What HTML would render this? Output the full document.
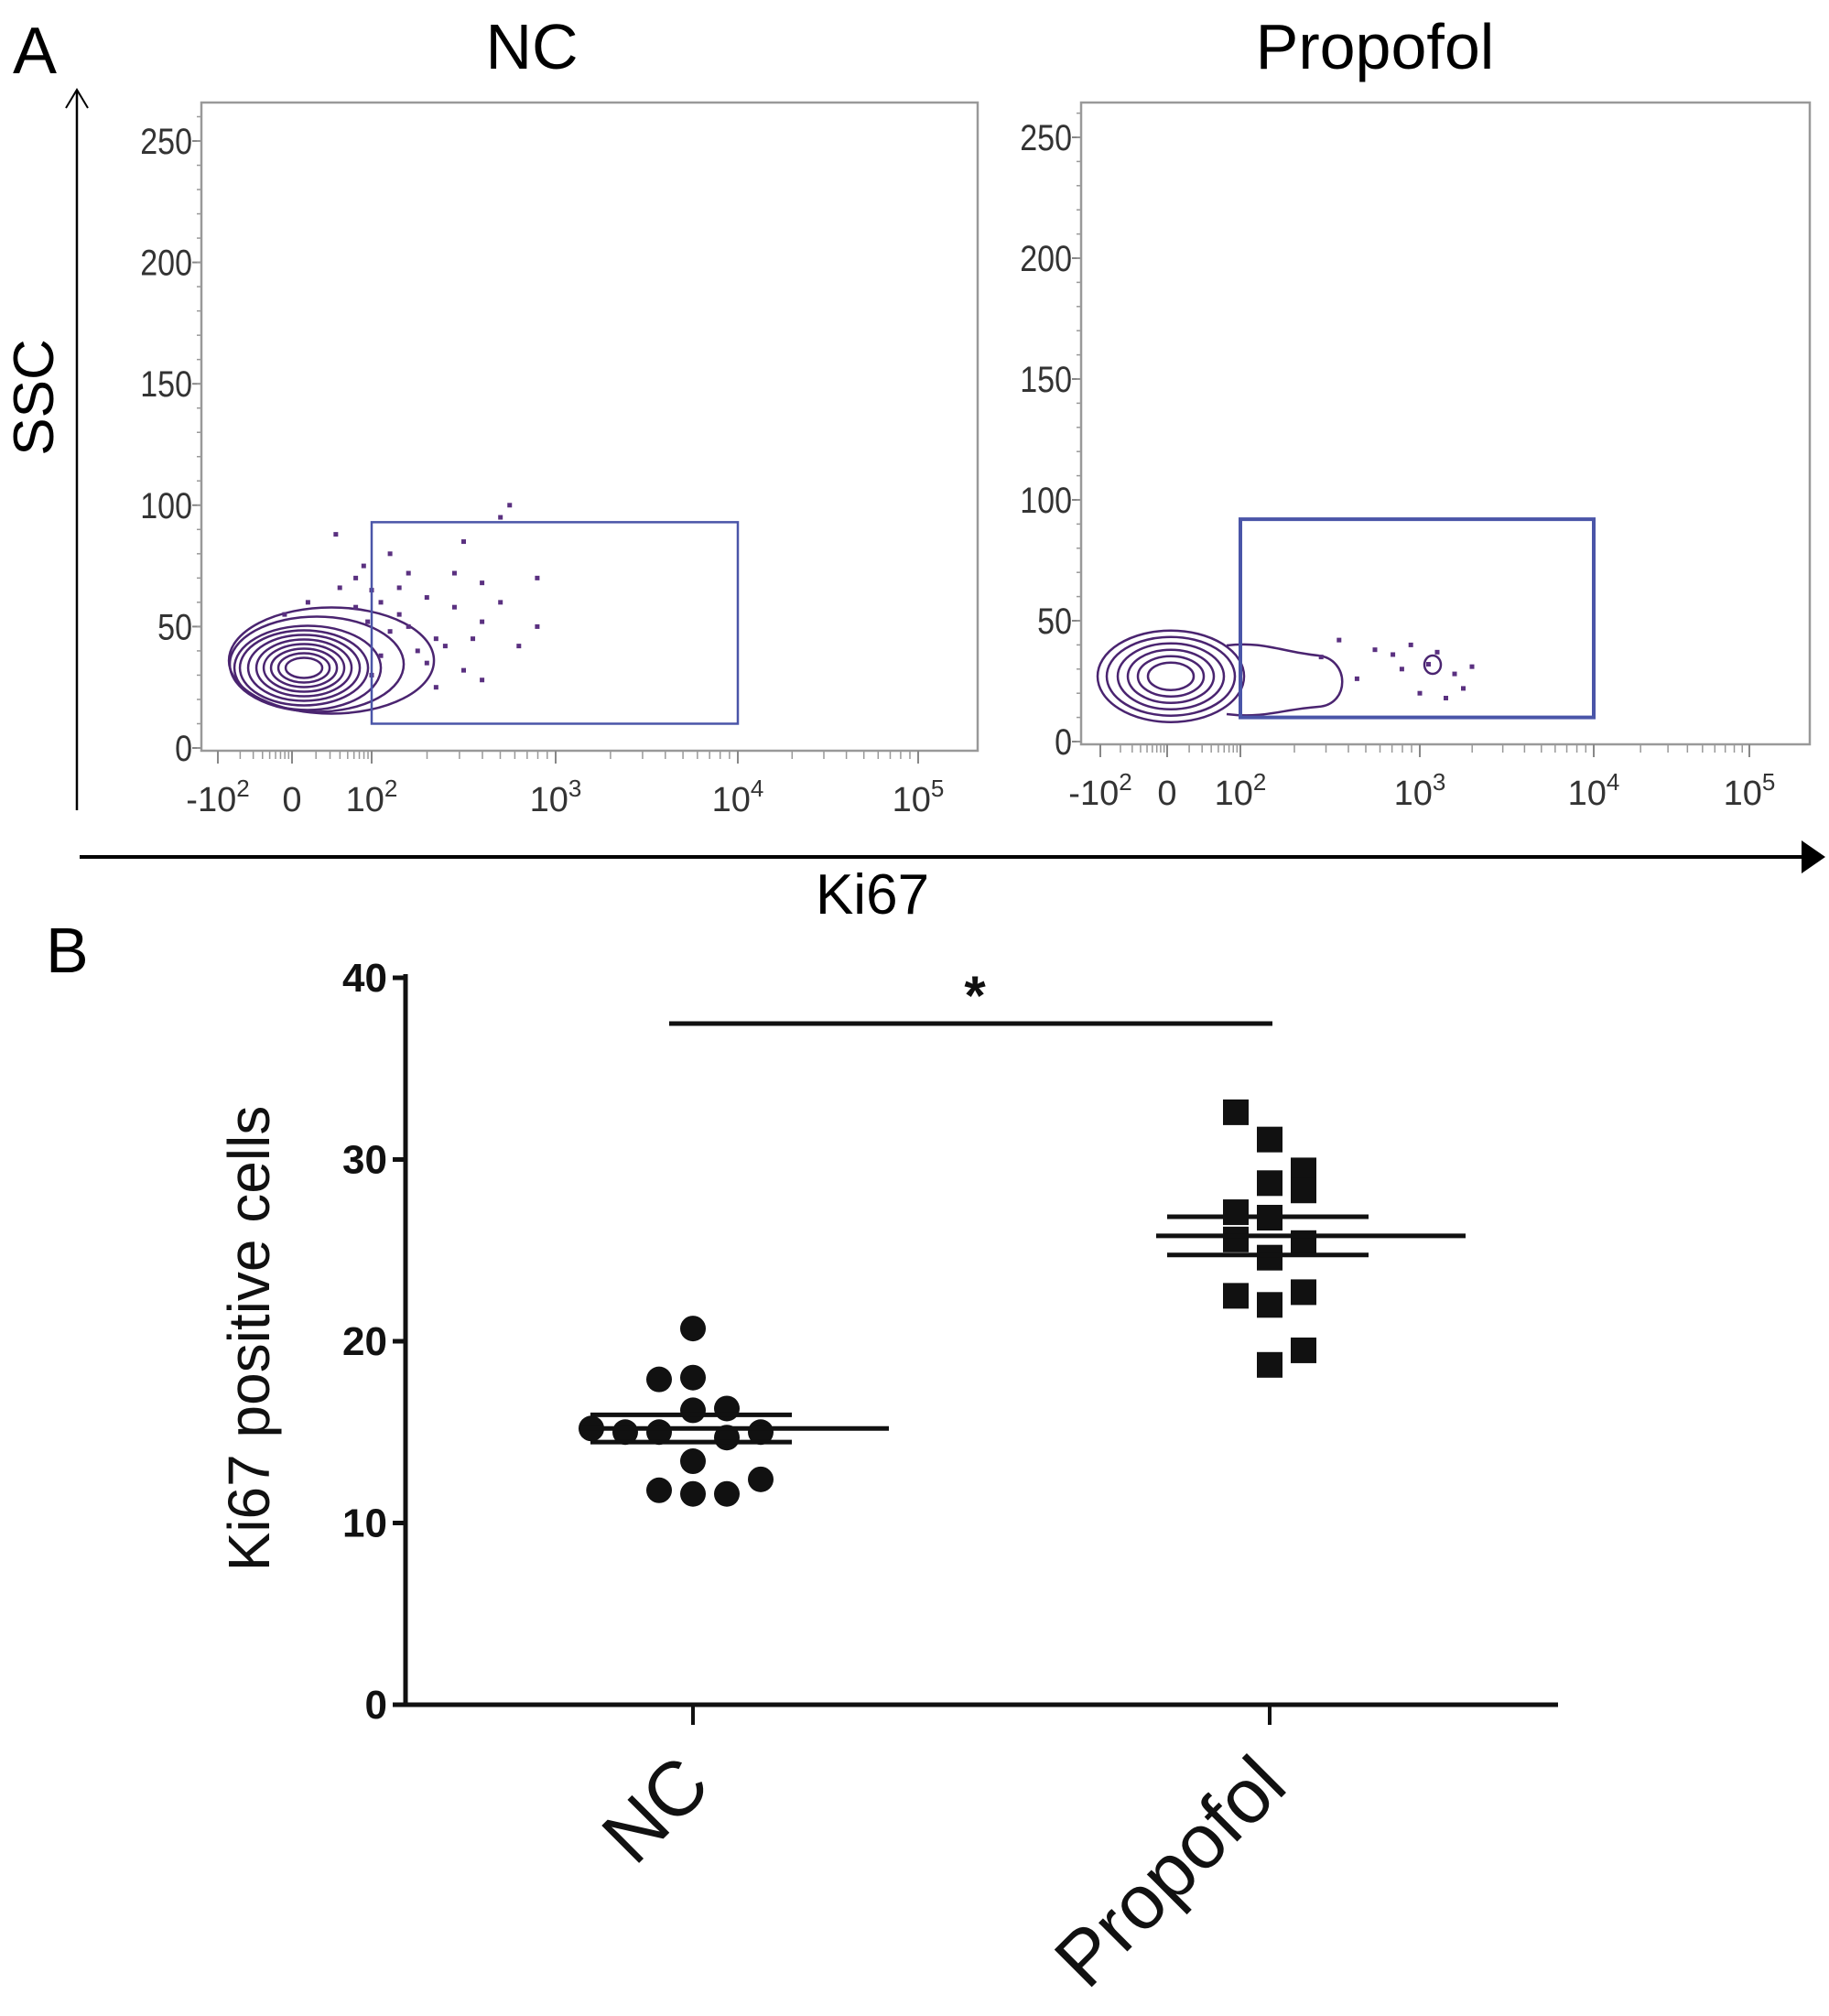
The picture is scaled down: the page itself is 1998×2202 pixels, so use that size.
<!DOCTYPE html>
<html><head><meta charset="utf-8"><style>
html,body{margin:0;padding:0;background:#fff}
svg{display:block;font-family:"Liberation Sans",sans-serif}
</style></head><body>
<svg id="fig" width="1998" height="2202" viewBox="0 0 1998 2202" xmlns="http://www.w3.org/2000/svg">
<text x="14" y="80" font-size="72">A</text>
<text x="581" y="75" font-size="70" text-anchor="middle">NC</text>
<text x="1502" y="75" font-size="70" text-anchor="middle">Propofol</text>
<g>
<line x1="84" y1="885" x2="84" y2="100" stroke="#000" stroke-width="2.5"/>
<polyline points="72,118 84,98 96,118" fill="none" stroke="#000" stroke-width="2"/>
</g>
<text transform="translate(58,434) rotate(-90)" font-size="62" text-anchor="middle">SSC</text>
<g>
<line x1="87" y1="936" x2="1975" y2="936" stroke="#000" stroke-width="4"/>
<polygon points="1968,918 1994,936 1968,954" fill="#000"/>
</g>
<text x="953" y="998" font-size="62" text-anchor="middle">Ki67</text>
<g id="flowA"></g>
<text x="50" y="1062" font-size="70">B</text>
<g id="chartB"></g>
</svg>
<script>
const NS="http://www.w3.org/2000/svg";
function mk(tag,attrs,parent){const e=document.createElementNS(NS,tag);for(const k in attrs)e.setAttribute(k,attrs[k]);parent.appendChild(e);return e;}

// ---- Panel A data ----
const sscTicks=[0,50,100,150,200,250];
const logTickLabels=["-10","0","10","10","10","10"];
const logTickExp=["2","","2","3","4","5"];
const ncDots=[[1.55,88],[1.9,75],[2.1,80],[2.2,72],[2.5,85],[2.7,95],[2.75,100],[2.0,65],[2.3,62],[2.05,60],[1.8,58],[2.15,55],[2.45,58],[2.6,68],[2.35,45],[2.25,40],[2.1,48],[2.8,42],[2.5,32],[2.35,25],[2.0,30],[2.4,42],[2.2,50],[2.6,52],[1.2,60],[0.9,55],[1.6,66],[1.8,70],[2.05,38],[2.9,70],[2.9,50],[2.3,35],[2.55,45],[2.15,66],[1.95,52],[2.7,60],[2.45,72],[2.6,28]];
const propDots=[[2.55,42],[2.75,38],[2.95,40],[3.1,37],[3.2,28],[3.25,22],[3.15,18],[3.05,32],[2.85,36],[2.65,26],[3.3,31],[2.45,35],[3.0,20],[2.9,30]];
const flowG=document.getElementById('flowA');
function flowPanel(cfg){
  const g=mk('g',{},flowG);
  const ys=v=>cfg.y0+(cfg.y250-cfg.y0)*v/250;
  function xl(i){const a=Math.floor(i),f=i-a;const b=Math.min(a+1,5);return cfg.xt[a]+f*(cfg.xt[b]-cfg.xt[a]);}
  const fr=mk('rect',{x:cfg.bx,y:cfg.by,width:cfg.bw,height:cfg.bh,fill:'none',stroke:'#999',"stroke-width":2.5},g);
  
  sscTicks.forEach(v=>{
    const y=ys(v);
    mk('line',{x1:cfg.bx-10,y1:y,x2:cfg.bx,y2:y,stroke:'#888','stroke-width':2},g);
    const t=mk('text',{x:cfg.bx-10,y:y+14,'font-size':40,'text-anchor':'end',fill:'#333',transform:`translate(${cfg.bx-10},0) scale(0.85,1) translate(${-(cfg.bx-10)},0)`},g);t.textContent=v;
    
  });
  for(let v=0;v<=260;v+=10){mk('line',{x1:cfg.bx-5,y1:ys(v),x2:cfg.bx,y2:ys(v),stroke:'#999','stroke-width':1.5},g);}
  cfg.xt.forEach((x,i)=>{
    mk('line',{x1:x,y1:cfg.by+cfg.bh,x2:x,y2:cfg.by+cfg.bh+14,stroke:'#888','stroke-width':2},g);
    const t=mk('text',{x:x,y:cfg.by+cfg.bh+66,'font-size':38,'text-anchor':'middle',fill:'#333'},g);
    
    t.textContent=logTickLabels[i];
    if(logTickExp[i]){const s=mk('tspan',{'font-size':26,dy:-16},t);s.textContent=logTickExp[i];}
  });
  for(let i=0;i<5;i++){for(let k=1;k<9;k++){const x=xl(i+Math.log10(k+1));mk('line',{x1:x,y1:cfg.by+cfg.bh,x2:x,y2:cfg.by+cfg.bh+9,stroke:'#999','stroke-width':1.5},g);}}
  const cg=mk('g',{fill:'none',stroke:'#4a2470','stroke-width':2.5},g);
  
  const cx=xl(cfg.cx),cy=ys(cfg.cy);
  cfg.rings.forEach(r=>mk('ellipse',{cx:cx+r[2],cy:cy+(r[3]||0),rx:r[0],ry:r[1]},cg));
  if(cfg.tail){mk('path',{d:cfg.tail},cg);}
  mk('ellipse',{cx:cx,cy:cy,rx:10,ry:5,fill:'#fff',stroke:'none'},cg);
  cfg.dots.forEach(d=>{const r=mk('rect',{x:xl(d[0])-2.5,y:ys(d[1])-2.5,width:5,height:5,fill:'#5a3080'},g);
    });
  const gate=mk('rect',{x:xl(cfg.gate[0]),y:ys(cfg.gate[3]),width:xl(cfg.gate[1])-xl(cfg.gate[0]),height:ys(cfg.gate[2])-ys(cfg.gate[3]),fill:'none',stroke:'#4a55a8','stroke-width':cfg.gw},g);
  
}
flowPanel({name:'nc-flow-plot',bx:220,by:112,bw:848,bh:708,y0:817,y250:154,xt:[238,319,406,607,806,1003],
  cx:1.15,cy:33,rings:[[112,58,30,-8],[95,52,14,-4],[80,46,4],[70,41,0],[61,36,0],[52,31,0],[44,26,0],[36,21,0],[28,16,0],[20,11,0]],dots:ncDots,gate:[2,4,10,93],gw:2.5});
flowPanel({name:'propofol-flow-plot',bx:1181,by:112,bw:796,bh:701,y0:810,y250:150,xt:[1202,1275,1355,1551,1741,1911],
  cx:1.05,cy:27,rings:[[80,50,0],[70,43,0],[58,36,0],[47,29,0],[36,22,0],[25,15,0]],dots:propDots,gate:[2,4,10,92],gw:4,
  tail:"M1340,705 C1380,700 1400,712 1440,716 C1475,720 1475,770 1440,772 C1400,775 1380,785 1340,780"});
(function(){const c=mk('ellipse',{cx:1565,cy:726,rx:9,ry:10,fill:'none',stroke:'#4a2470','stroke-width':2.5},flowG);
})();

// ---- Panel B data ----
const categories=["NC","Propofol"];
const yTicks=[0,10,20,30,40];
const ncValues=[20.7,17.9,18.0,15.2,15.0,15.0,16.2,16.3,15.0,13.4,11.8,11.6,11.6,12.4,14.7];
const ncJitter=[0,-1,0,-3,-2,-1,0,1,2,0,-1,0,1,2,1];
const propValues=[32.6,31.1,29.4,28.3,28.7,27.1,26.8,25.6,25.4,24.6,22.5,22.7,22.0,19.5,18.7];
const propJitter=[-1,0,1,1,0,-1,0,-1,1,0,-1,1,0,1,0];
const means=[15.2,25.8];
const sems=[0.75,1.05];
const sigLabel="*";

const B=document.getElementById('chartB');
const X0=443,Y0=1862,Y40=1068;
const yS=v=>Y0+(Y40-Y0)*v/40;
const catX=[757,1387];
const xS=i=>catX[i];
const jitS=j=>j*37;
const ax=mk('g',{stroke:'#111','stroke-width':5,fill:'none'},B);

mk('line',{x1:X0,y1:Y40-4,x2:X0,y2:Y0+2},ax);
mk('line',{x1:X0-2,y1:Y0,x2:1702,y2:Y0},ax);
yTicks.forEach(v=>{
  mk('line',{x1:X0-14,y1:yS(v),x2:X0,y2:yS(v),stroke:'#111','stroke-width':5},B);
  const t=mk('text',{x:X0-20,y:yS(v)+15,'font-size':44,'font-weight':'bold','text-anchor':'end',fill:'#111'},B);
  t.textContent=v;
});
const yt=mk('text',{transform:'translate(294,1462) rotate(-90)','font-size':64,'text-anchor':'middle',fill:'#111'},B);
yt.textContent="Ki67 positive cells";
categories.forEach((c,i)=>{
  mk('line',{x1:xS(i),y1:Y0,x2:xS(i),y2:Y0+22,stroke:'#111','stroke-width':4},B);
  const t=mk('text',{transform:`translate(${xS(i)+22},${Y0+92}) rotate(-45)`,'font-size':84,'text-anchor':'end',fill:'#111'},B);
  t.textContent=c;
});
ncValues.forEach((v,k)=>{const c=mk('circle',{cx:xS(0)+jitS(ncJitter[k]),cy:yS(v),r:14,fill:'#111'},B);
  });
propValues.forEach((v,k)=>{const r=mk('rect',{x:xS(1)+jitS(propJitter[k])-14,y:yS(v)-14,width:28,height:28,fill:'#111'},B);
  });
means.forEach((m,i)=>{
  const l=mk('line',{x1:xS(i)-124,y1:yS(m),x2:xS(i)+214,y2:yS(m),stroke:'#111','stroke-width':5},B);
  
  [m-sems[i],m+sems[i]].forEach(s=>{const e=mk('line',{x1:xS(i)-112,y1:yS(s),x2:xS(i)+108,y2:yS(s),stroke:'#111','stroke-width':5},B);
    });
});
const sb=mk('line',{x1:731,y1:1118,x2:1390,y2:1118,stroke:'#111','stroke-width':5},B);

const st=mk('text',{x:1065,y:1108,'font-size':60,'font-weight':'bold','text-anchor':'middle',fill:'#111'},B);
st.textContent=sigLabel;
</script>
</body></html>
